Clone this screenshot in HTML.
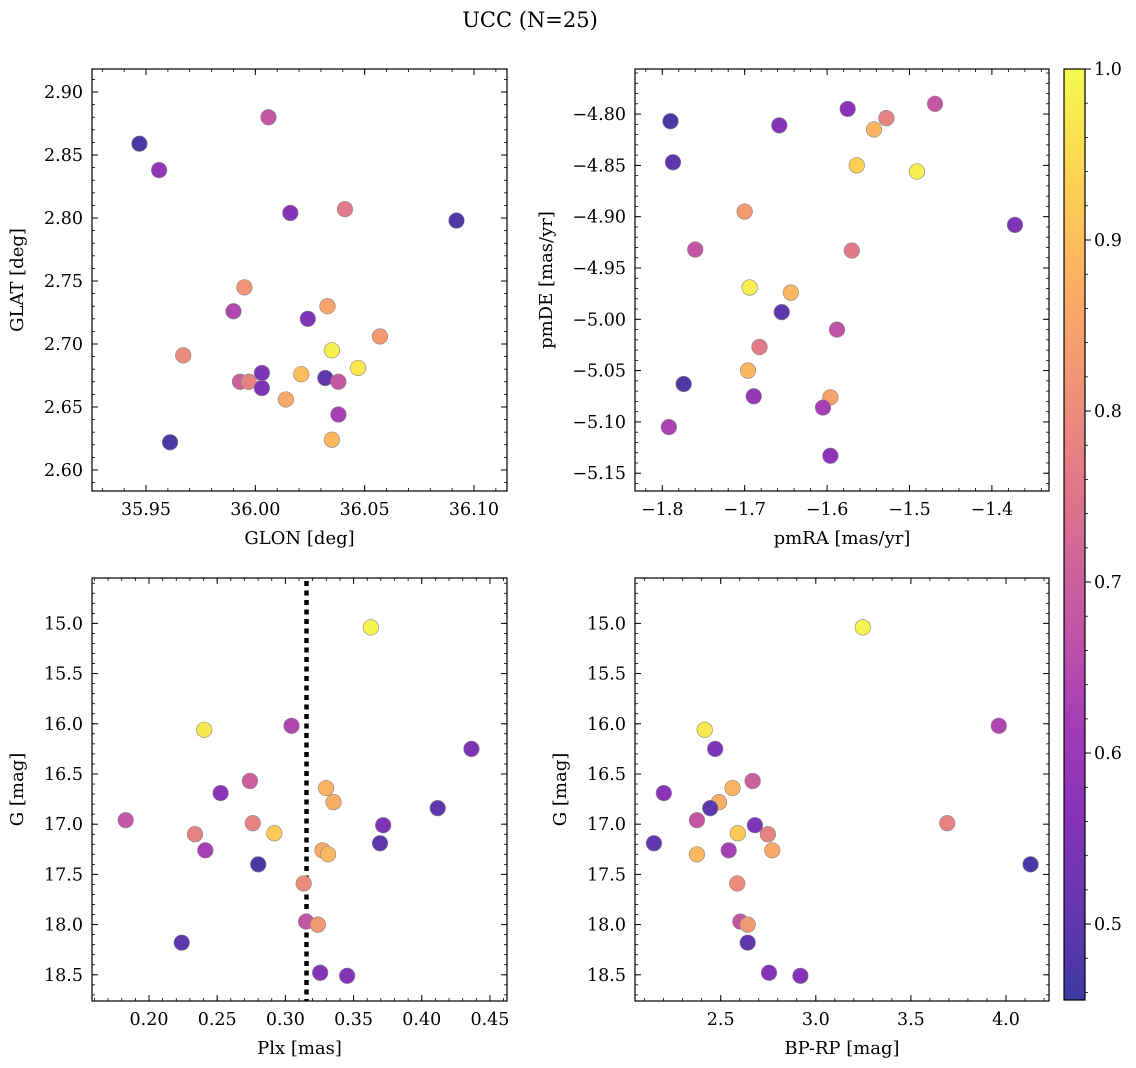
<!DOCTYPE html>
<html><head><meta charset="utf-8"><style>
html,body{margin:0;padding:0;background:#fff;}
svg{display:block;}
svg text{font-family:"DejaVu Serif","Liberation Serif",serif;}
</style></head><body>
<svg id="fig" width="1136" height="1068" viewBox="0 0 1136 1068" xmlns="http://www.w3.org/2000/svg">
<text x="530" y="27" text-anchor="middle" font-size="21">UCC (N=25)</text>
</svg>
<script>
// ---- Top-left: GLON vs GLAT ----
const glonTL = [35.947,35.956,36.006,36.016,36.041,36.092,35.995,35.990,36.033,36.024,36.057,35.967,36.035,36.047,36.003,35.993,35.997,36.003,36.021,36.032,36.038,36.014,36.038,35.961,36.035];
const glatTL = [2.859,2.838,2.880,2.804,2.807,2.798,2.745,2.726,2.730,2.720,2.706,2.691,2.695,2.681,2.677,2.670,2.670,2.665,2.676,2.673,2.670,2.656,2.644,2.622,2.624];
const colTL = [0.47,0.58,0.68,0.56,0.76,0.48,0.82,0.64,0.85,0.55,0.83,0.80,0.98,0.97,0.55,0.70,0.78,0.55,0.90,0.50,0.68,0.86,0.62,0.47,0.89];
// ---- Top-right: pmRA vs pmDE ----
const pmraTR = [-1.790,-1.787,-1.658,-1.575,-1.528,-1.543,-1.469,-1.564,-1.491,-1.700,-1.372,-1.760,-1.570,-1.694,-1.644,-1.655,-1.588,-1.682,-1.696,-1.774,-1.689,-1.596,-1.605,-1.792,-1.596];
const pmdeTR = [-4.807,-4.847,-4.811,-4.795,-4.804,-4.815,-4.790,-4.850,-4.856,-4.895,-4.908,-4.932,-4.933,-4.969,-4.974,-4.993,-5.010,-5.027,-5.050,-5.063,-5.075,-5.076,-5.086,-5.105,-5.133];
const colTR = [0.47,0.50,0.56,0.57,0.78,0.88,0.68,0.93,0.98,0.83,0.55,0.68,0.76,0.98,0.89,0.50,0.67,0.76,0.89,0.48,0.59,0.85,0.62,0.63,0.57];
// ---- Bottom: Plx, BP-RP vs G ----
const plx = [0.3627,0.2405,0.3045,0.4364,0.2740,0.2525,0.3299,0.3353,0.4117,0.1829,0.2761,0.3717,0.2337,0.2919,0.3694,0.2413,0.3272,0.3313,0.2801,0.3134,0.3152,0.3238,0.2240,0.3255,0.3453];
const bprp = [3.247,2.416,3.962,2.471,2.668,2.201,2.562,2.491,2.445,2.375,3.691,2.680,2.748,2.590,2.149,2.542,2.771,2.375,4.129,2.587,2.603,2.642,2.642,2.754,2.919];
const gmag = [15.04,16.06,16.02,16.25,16.57,16.69,16.64,16.78,16.84,16.96,16.99,17.01,17.10,17.09,17.19,17.26,17.26,17.30,17.40,17.59,17.97,18.00,18.18,18.48,18.51];
const colB = [0.99,0.97,0.64,0.55,0.70,0.57,0.88,0.87,0.50,0.68,0.78,0.55,0.78,0.92,0.50,0.62,0.86,0.89,0.47,0.80,0.68,0.83,0.50,0.56,0.56];
const plxLine = 0.3155;
// ticks
const ticksTLx = [35.95,36.00,36.05,36.10], ticksTLy = [2.60,2.65,2.70,2.75,2.80,2.85,2.90];
const ticksTRx = [-1.8,-1.7,-1.6,-1.5,-1.4], ticksTRy = [-5.15,-5.10,-5.05,-5.00,-4.95,-4.90,-4.85,-4.80];
const ticksBLx = [0.20,0.25,0.30,0.35,0.40,0.45], ticksGy = [15.0,15.5,16.0,16.5,17.0,17.5,18.0,18.5];
const ticksBRx = [2.5,3.0,3.5,4.0];
const ticksCb = [0.5,0.6,0.7,0.8,0.9,1.0];
const cMin = 0.4556, cMax = 1.0;

const NS = "http://www.w3.org/2000/svg";
const svg = document.getElementById('fig');
const TFS = 17.5, LFS = 18;
function mk(tag, attrs, parent){const e=document.createElementNS(NS,tag);for(const k in attrs)e.setAttribute(k,attrs[k]);(parent||svg).appendChild(e);return e;}
const stops=[[13,8,135],[65,4,157],[106,0,168],[143,13,164],[177,42,144],[204,71,120],[225,100,98],[242,132,75],[252,166,54],[252,206,37],[240,249,33]];
function plasma(t){t=Math.max(0,Math.min(1,t));const f=t*10,i=Math.min(9,Math.floor(f)),r=f-i;const a=stops[i],b=stops[i+1];
 const c=a.map((v,k)=>v+(b[k]-v)*r).map(v=>Math.round(v*0.8+255*0.2));return `rgb(${c[0]},${c[1]},${c[2]})`;}
function fmt(v,d){return (v<0?'\u2212':'')+Math.abs(v).toFixed(d);}

function panel(o){
 const g=mk('g',{});
 
 
 const sx=v=>o.x0+(v-o.xmin)/(o.xmax-o.xmin)*(o.x1-o.x0);
 const sy=v=>o.inv? o.y0+(v-o.ymin)/(o.ymax-o.ymin)*(o.y1-o.y0) : o.y1-(v-o.ymin)/(o.ymax-o.ymin)*(o.y1-o.y0);
 if(o.vline!==undefined){const l=mk('line',{x1:sx(o.vline),x2:sx(o.vline),y1:o.y0+3,y2:o.y1,stroke:'#000','stroke-width':4.5,'stroke-dasharray':'5,4.5'},g);
  
  }
 o.xs.forEach((xv,i)=>{const c=mk('circle',{cx:sx(xv),cy:sy(o.ys[i]),r:7.8,fill:plasma((o.cs[i]-cMin)/(cMax-cMin)),stroke:'#888','stroke-width':0.6},g);
  
  });
 const fr=mk('rect',{x:o.x0,y:o.y0,width:o.x1-o.x0,height:o.y1-o.y0,fill:'none',stroke:'#000','stroke-width':1.2},g);
 
 
 const eps=1e-9;
 for(let v=Math.ceil(o.xmin/o.mx-eps)*o.mx; v<=o.xmax; v+=o.mx){const X=sx(v);
  mk('line',{x1:X,x2:X,y1:o.y1,y2:o.y1-3,stroke:'#000','stroke-width':0.8},g);mk('line',{x1:X,x2:X,y1:o.y0,y2:o.y0+3,stroke:'#000','stroke-width':0.8},g);}
 for(let v=Math.ceil(o.ymin/o.my-eps)*o.my; v<=o.ymax; v+=o.my){const Y=sy(v);
  mk('line',{x1:o.x0,x2:o.x0+3,y1:Y,y2:Y,stroke:'#000','stroke-width':0.8},g);mk('line',{x1:o.x1,x2:o.x1-3,y1:Y,y2:Y,stroke:'#000','stroke-width':0.8},g);}
 o.tx.forEach(v=>{const X=sx(v);
  mk('line',{x1:X,x2:X,y1:o.y1,y2:o.y1-6,stroke:'#000','stroke-width':1},g);mk('line',{x1:X,x2:X,y1:o.y0,y2:o.y0+6,stroke:'#000','stroke-width':1},g);
  const t=mk('text',{x:X,y:o.y1+24,'text-anchor':'middle','font-size':TFS},g);t.textContent=fmt(v,o.dx);
  
  });
 o.ty.forEach(v=>{const Y=sy(v);
  mk('line',{x1:o.x0,x2:o.x0+6,y1:Y,y2:Y,stroke:'#000','stroke-width':1},g);mk('line',{x1:o.x1,x2:o.x1-6,y1:Y,y2:Y,stroke:'#000','stroke-width':1},g);
  const t=mk('text',{x:o.x0-9,y:Y+6,'text-anchor':'end','font-size':TFS},g);t.textContent=fmt(v,o.dy);
  
  });
 const xl=mk('text',{x:(o.x0+o.x1)/2,y:o.y1+53,'text-anchor':'middle','font-size':LFS},g);xl.textContent=o.xlab;
 
 
 const yl=mk('text',{x:0,y:0,'text-anchor':'middle','font-size':LFS,transform:`translate(${o.ylx},${(o.y0+o.y1)/2}) rotate(-90)`},g);yl.textContent=o.ylab;
 
 
}
panel({name:'glon-glat-panel',x0:92,x1:507,y0:69,y1:491,xmin:35.9253,xmax:36.1151,ymin:2.5833,ymax:2.9183,xs:glonTL,ys:glatTL,cs:colTL,tx:ticksTLx,ty:ticksTLy,dx:2,dy:2,mx:0.01,my:0.01,xlab:'GLON [deg]',ylab:'GLAT [deg]',ylx:23});
panel({name:'pm-panel',x0:635,x1:1049,y0:69,y1:491,xmin:-1.8331,xmax:-1.3307,ymin:-5.1673,ymax:-4.7561,xs:pmraTR,ys:pmdeTR,cs:colTR,tx:ticksTRx,ty:ticksTRy,dx:1,dy:2,mx:0.02,my:0.01,xlab:'pmRA [mas/yr]',ylab:'pmDE [mas/yr]',ylx:552});
panel({name:'plx-g-panel',x0:92,x1:507,y0:578,y1:1001,xmin:0.1582,xmax:0.4625,ymin:14.548,ymax:18.761,inv:true,xs:plx,ys:gmag,cs:colB,tx:ticksBLx,ty:ticksGy,dx:2,dy:1,mx:0.01,my:0.1,xlab:'Plx [mas]',ylab:'G [mag]',ylx:23,vline:plxLine});
panel({name:'cmd-panel',x0:635,x1:1049,y0:578,y1:1001,xmin:2.0494,xmax:4.226,ymin:14.548,ymax:18.761,inv:true,xs:bprp,ys:gmag,cs:colB,tx:ticksBRx,ty:ticksGy,dx:1,dy:1,mx:0.1,my:0.1,xlab:'BP-RP [mag]',ylab:'G [mag]',ylx:566});

// colorbar
const defs=mk('defs',{});const lg=mk('linearGradient',{id:'cbg',x1:0,y1:1,x2:0,y2:0},defs);
for(let i=0;i<=20;i++){mk('stop',{offset:(i/20),'stop-color':plasma(i/20)},lg);}
const cb=mk('g',{});


const cy0=69,cy1=1000,cx0=1064,cx1=1085;
mk('rect',{x:cx0,y:cy0,width:cx1-cx0,height:cy1-cy0,fill:'url(#cbg)',stroke:'#000','stroke-width':1.2},cb);
const cyS=v=>cy1-(v-cMin)/(cMax-cMin)*(cy1-cy0);
for(let v=0.46;v<=1.0001;v+=0.02){const Y=cyS(v);mk('line',{x1:cx1,x2:cx1+3,y1:Y,y2:Y,stroke:'#000','stroke-width':0.8},cb);}
ticksCb.forEach(v=>{const Y=cyS(v);mk('line',{x1:cx1,x2:cx1+6,y1:Y,y2:Y,stroke:'#000','stroke-width':1},cb);
 const t=mk('text',{x:cx1+9,y:Y+6,'font-size':TFS},cb);t.textContent=v.toFixed(1);
 
 });
</script>
</body></html>
